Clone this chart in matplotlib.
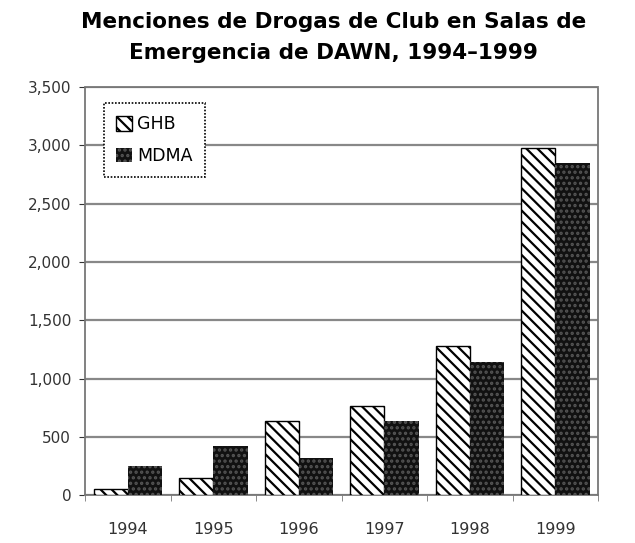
import matplotlib.pyplot as plt
import numpy as np
from matplotlib.ticker import FuncFormatter, FixedLocator

years = ["1994", "1995", "1996", "1997", "1998", "1999"]
ghb = [56, 145, 638, 762, 1282, 2973]
mdma = [253, 421, 319, 637, 1143, 2850]

plt.rcParams["font.family"] = ["DejaVu Sans"]
plt.rcParams["hatch.linewidth"] = 1.6

fig = plt.figure(figsize=(6.35, 5.43), dpi=100)
ax = fig.add_axes([0.134, 0.088, 0.808, 0.752])

x = np.arange(len(years))
w = 0.4
ax.bar(x - w / 2, ghb, w, color="white", edgecolor="black", hatch="\\\\\\",
       linewidth=1.0, label="GHB", zorder=3)
ax.bar(x + w / 2, mdma, w, color="#111111", edgecolor="#555555", hatch="...",
       linewidth=0.0, label="MDMA", zorder=3)

ax.set_xlim(-0.5, len(years) - 0.5)
ax.set_ylim(0, 3500)
ax.set_yticks(range(0, 3501, 500))
ax.yaxis.set_major_formatter(FuncFormatter(lambda v, p: f"{int(v):,}"))
ax.yaxis.grid(True, color="#888888", linewidth=1.6, linestyle="-", zorder=0)

# year labels centred, tick marks on category borders
ax.set_xticks(x)
ax.set_xticklabels(years)
ax.tick_params(axis="x", length=0, labelsize=11.5, pad=19, colors="#333333")
ax.xaxis.set_minor_locator(FixedLocator(np.arange(-0.5, len(years), 1.0)))
ax.tick_params(axis="x", which="minor", length=4, color="#777777")
ax.tick_params(axis="y", length=4, labelsize=11, colors="#333333", pad=6)

for s in ax.spines.values():
    s.set_color("#777777")
    s.set_linestyle((0, (1, 1)))
    s.set_linewidth(1.3)

leg = ax.legend(loc="upper left", bbox_to_anchor=(0.037, 0.96), fontsize=12.5,
                handlelength=0.9, handleheight=0.9, handletextpad=0.3,
                borderpad=0.7, labelspacing=0.8, fancybox=False, framealpha=1,
                borderaxespad=0)
leg.get_frame().set_edgecolor("black")
leg.get_frame().set_linestyle((0, (1, 1)))
leg.get_frame().set_linewidth(1.2)

fig.text(0.525, 0.978, "Menciones de Drogas de Club en Salas de\nEmergencia de DAWN, 1994\u20131999",
         ha="center", va="top", fontsize=15.5, fontweight="bold", linespacing=1.7)

fig.savefig("out.png", dpi=100)
